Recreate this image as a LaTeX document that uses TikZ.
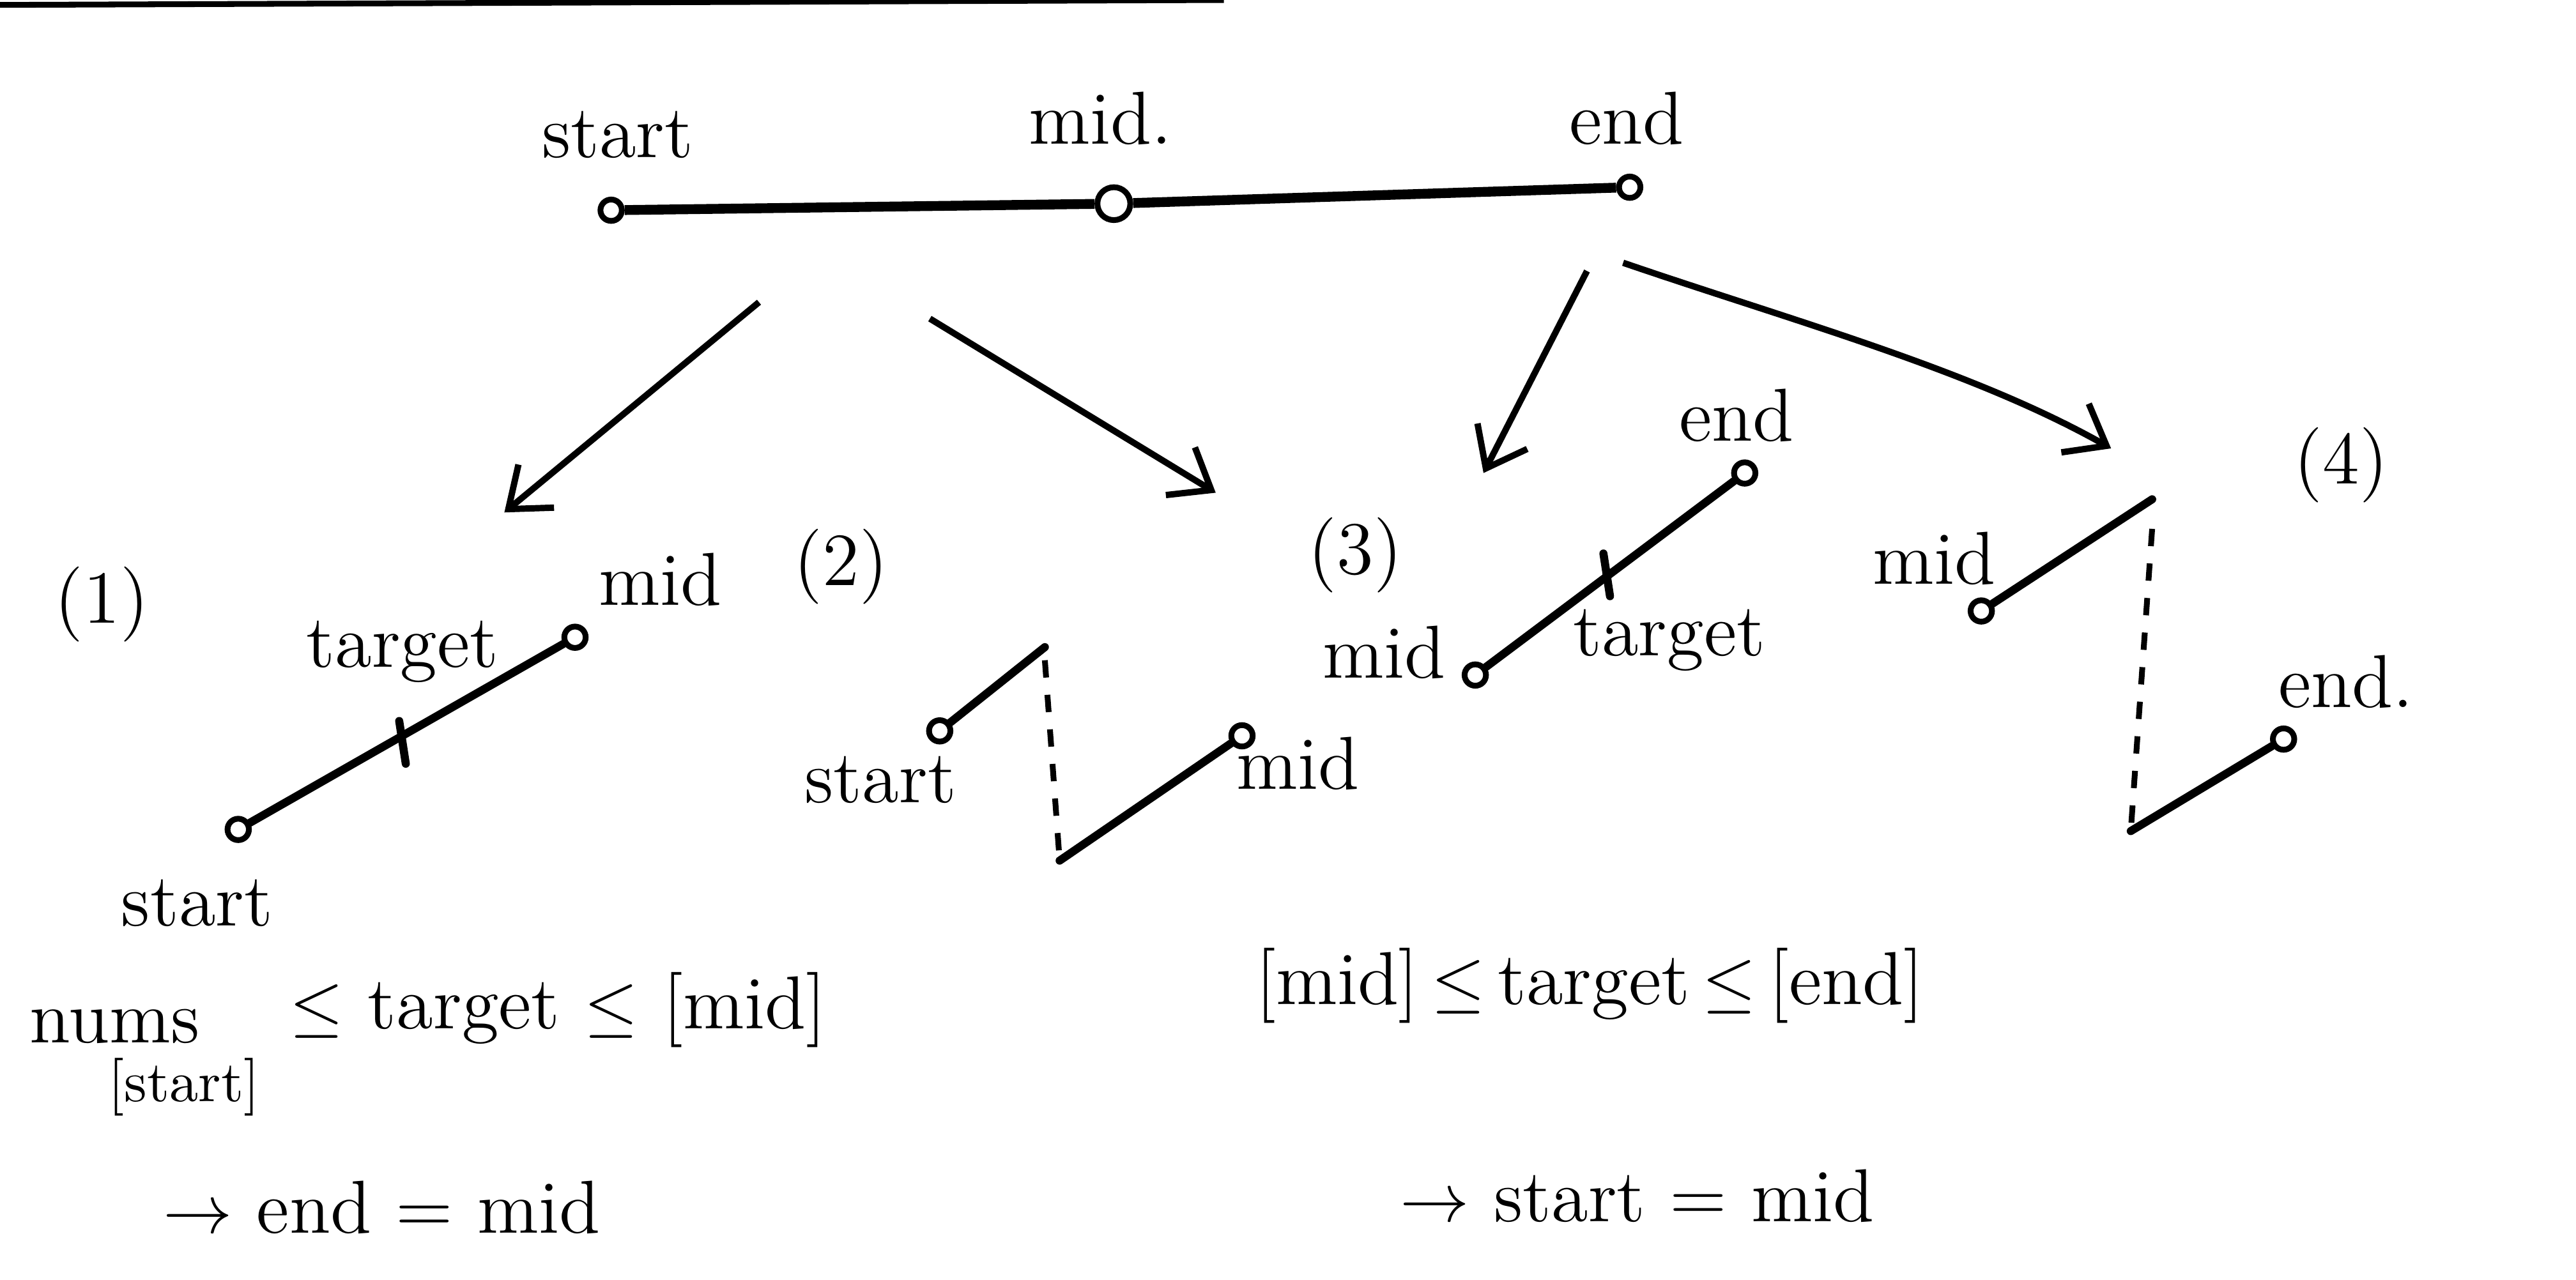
\documentclass[tikz,border=0pt]{standalone}
\usetikzlibrary{arrows.meta}
\begin{document}
\begin{tikzpicture}[x=0.01cm,y=-0.01cm,
  pt/.style={circle,draw,line width=1pt,inner sep=0pt,minimum size=0.13cm,fill=white},
  seg/.style={line width=1.4pt,line cap=round},
  arr/.style={line width=1.1pt,-{Straight Barb[length=0.22cm,width=0.34cm]}},
  dots/.style={line width=1pt,dash pattern=on 3pt off 3pt},
  lbl/.style={font=\fontsize{13}{15}\selectfont,inner sep=1pt},
  sm/.style={font=\fontsize{10}{12}\selectfont,inner sep=1pt}]
\useasboundingbox (0,0) rectangle (1568,779);
\draw[line width=1pt] (0,3) -- (745,0);

% top line
\node[pt] (ts) at (372,128) {};
\node[pt,minimum size=0.2cm] (tm) at (678,124) {};
\node[pt] (te) at (992,114) {};
\draw[line width=1.7pt] (ts) -- (tm) -- (te);
\node[lbl] (lts) at (376,82) {start};
\node[lbl] (ltm) at (670,72) {mid.};
\node[lbl] (lte) at (990,72) {end};

% arrows
\coordinate (a1s) at (462,184); \coordinate (a1e) at (307,312);
\coordinate (a2s) at (566,194); \coordinate (a2e) at (740,300);
\coordinate (a3s) at (966,165); \coordinate (a3e) at (903,288);
\coordinate (a4s) at (988,160); \coordinate (a4e) at (1285,273);
\draw[arr] (a1s) -- (a1e);
\draw[arr] (a2s) -- (a2e);
\draw[arr] (a3s) -- (a3e);
\draw[arr] (a4s) .. controls (1090,195) and (1200,225) .. (a4e);

% panel 1
\node[lbl] (p1) at (62,368) {(1)};
\node[pt] (s1) at (145,505) {};
\node[pt] (m1) at (350,388) {};
\draw[seg] (s1) -- (m1);
\coordinate (t1) at (245,452);
\draw[seg] (t1) ++(-2,-13) -- ++(4,26);
\node[lbl] (lt1) at (245,397) {target};
\node[lbl] (lm1) at (402,353) {mid};
\node[lbl] (ls1) at (120,550) {start};

% panel 2
\node[lbl] (p2) at (512,345) {(2)};
\node[pt] (s2) at (572,445) {};
\coordinate (c2a) at (636,394);
\coordinate (c2b) at (636,402);
\coordinate (c2c) at (645,524);
\node[pt] (m2) at (756,448) {};
\draw[seg] (s2) -- (c2a);
\draw[dots] (c2b) -- (c2c);
\draw[seg] (c2c) -- (m2);
\node[lbl] (ls2) at (536,475) {start};
\node[lbl] (lm2) at (790,465) {mid};

% panel 3
\node[lbl] (p3) at (825,338) {(3)};
\node[pt] (m3) at (898,411) {};
\node[pt] (e3) at (1062,288) {};
\draw[seg] (m3) -- (e3);
\coordinate (t3) at (978,350);
\draw[seg] (t3) ++(-2,-13) -- ++(4,26);
\node[lbl] (le3) at (1057,253) {end};
\node[lbl,anchor=east] (lm3) at (884,397) {mid};
\node[lbl] (lt3) at (1016,390) {target};

% panel 4
\node[lbl] (p4) at (1425,283) {(4)};
\node[pt] (m4) at (1206,372) {};
\coordinate (c4a) at (1310,304);
\coordinate (c4b) at (1310,322);
\coordinate (c4c) at (1297,506);
\node[pt] (e4) at (1390,450) {};
\draw[seg] (m4) -- (c4a);
\draw[dots] (c4b) -- (c4c);
\draw[seg] (c4c) -- (e4);
\node[lbl,anchor=east] (lm4) at (1219,340) {mid};
\node[lbl] (le4) at (1428,415) {end.};

% bottom text
\node[lbl] (n1) at (70,625) {nums};
\node[sm] (n2) at (112,662) {[start]};
\node[lbl,anchor=west] (n3) at (172,615) {$\leq$ target $\leq$ [mid]};
\node[lbl,anchor=west] (n4) at (760,600) {[mid]\,$\leq$\,target\,$\leq$\,[end]};
\node[lbl,anchor=west] (n5) at (95,735) {$\rightarrow$ end = mid};
\node[lbl,anchor=west] (n6) at (848,728) {$\rightarrow$ start = mid};
\end{tikzpicture}
\end{document}
